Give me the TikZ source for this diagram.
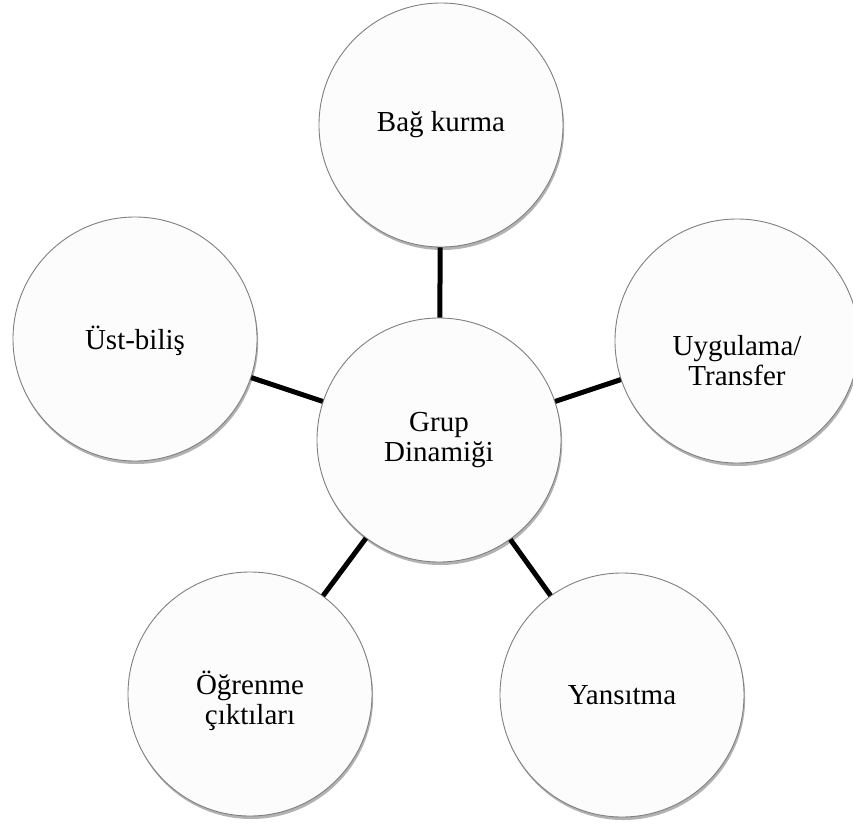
\documentclass[tikz,border=0pt]{standalone}
\usepackage{fontspec}
\setmainfont{Liberation Serif}
\usetikzlibrary{shadows}
\begin{document}
\begin{tikzpicture}[x=1pt,y=-1pt,
  bubble/.style={circle, draw=black!50, line width=0.9pt, fill=black!1, minimum size=244pt, inner sep=0pt,
    drop shadow={shadow xshift=1.2pt, shadow yshift=-3pt, opacity=0.3, fill=black}},
  lbl/.style={font=\fontsize{29}{30}\selectfont, align=center, inner sep=0pt},
  link/.style={line width=5pt, black}]
\useasboundingbox (0,0) rectangle (853,825);
\fill[white] (0,0) rectangle (853,825);
\node[bubble] (top) at (441,125) {};
\node[bubble] (left) at (135,339) {};
\node[bubble] (right) at (737,341) {};
\node[bubble] (bl) at (250,694) {};
\node[bubble] (br) at (622,695) {};
\node[bubble] (center) at (439,440) {};
\draw[link] (center) -- (top);
\draw[link] (center) -- (left);
\draw[link] (center) -- (right);
\draw[link] (center) -- (bl);
\draw[link] (center) -- (br);
\node[lbl] (ttop) at (441,125) {Bağ kurma};
\node[lbl] (tleft) at (135,341) {Üst-biliş};
\node[lbl] (tright) at (737,361) {Uygulama/\\Transfer};
\node[lbl] (tbl) at (250,701) {Öğrenme\\çıktıları};
\node[lbl] (tbr) at (622,695) {Yansıtma};
\node[lbl] (tcenter) at (439,440) {Grup\\Dinamiği};
\end{tikzpicture}
\end{document}
